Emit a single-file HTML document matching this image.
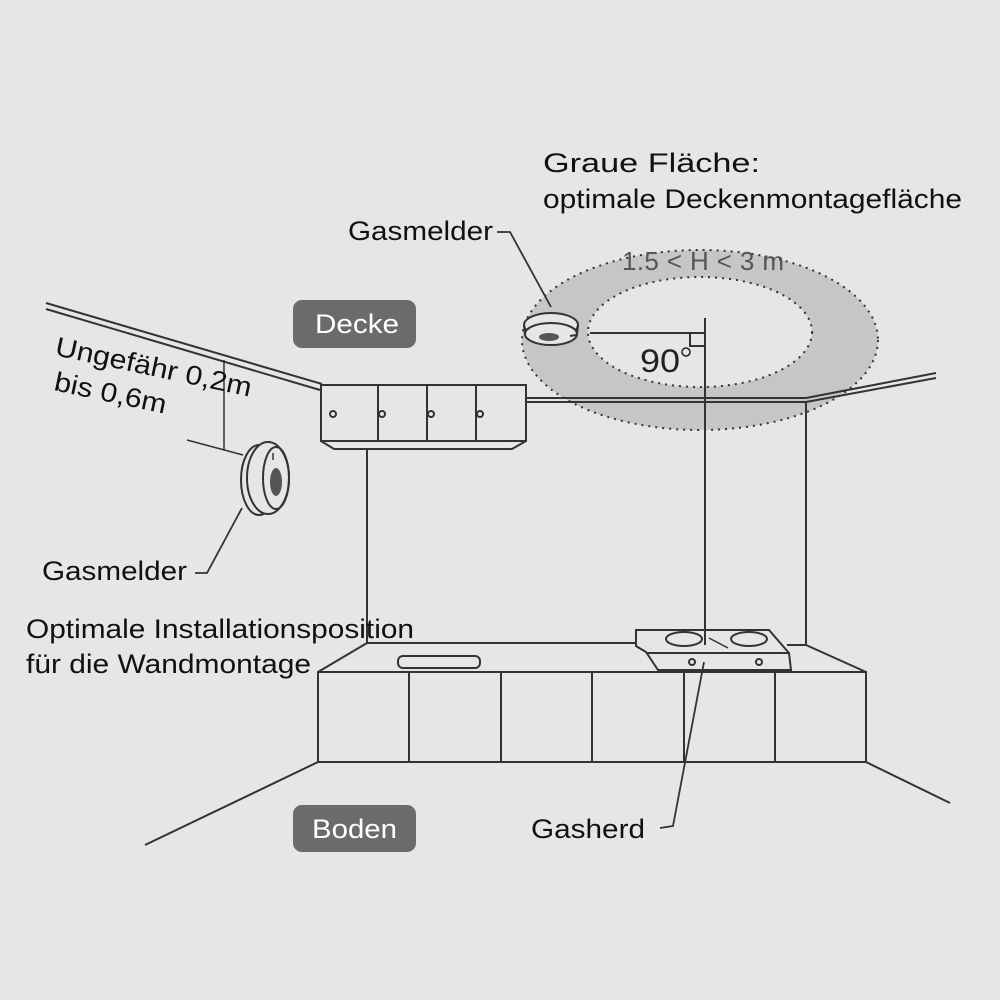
<!DOCTYPE html>
<html><head><meta charset="utf-8"><style>
html,body{margin:0;padding:0;background:#e6e6e6;}
svg{display:block;}
text{font-family:"Liberation Sans",sans-serif;}
</style></head><body>
<svg width="1000" height="1000" viewBox="0 0 1000 1000">
<rect width="1000" height="1000" fill="#e6e6e6"/>
<path d="M522,340 a178,90 0 1,0 356,0 a178,90 0 1,0 -356,0 Z M588,332 a112,55 0 1,1 224,0 a112,55 0 1,1 -224,0 Z" fill="#c6c6c6" fill-rule="evenodd"/>
<ellipse cx="700" cy="340" rx="178" ry="90" fill="none" stroke="#333" stroke-width="2" stroke-dasharray="2,5"/>
<ellipse cx="700" cy="332" rx="112" ry="55" fill="none" stroke="#333" stroke-width="2" stroke-dasharray="2,5"/>
<g stroke="#333" stroke-width="2" fill="none">
<line x1="46" y1="303" x2="322" y2="384"/>
<line x1="46" y1="309" x2="320" y2="390"/>
<line x1="526" y1="398" x2="806" y2="398"/>
<line x1="526" y1="402" x2="806" y2="402"/>
<line x1="806" y1="398" x2="936" y2="373"/>
<line x1="806" y1="402" x2="936" y2="378"/>
<rect x="321" y="385" width="205" height="56" fill="#e6e6e6"/>
<line x1="378" y1="385" x2="378" y2="441"/>
<line x1="427" y1="385" x2="427" y2="441"/>
<line x1="476" y1="385" x2="476" y2="441"/>
<path d="M321,441 L334,449 L512,449 L526,441"/>
<circle cx="333" cy="414" r="3"/><circle cx="382" cy="414" r="3"/><circle cx="431" cy="414" r="3"/><circle cx="480" cy="414" r="3"/>
<line x1="367" y1="449" x2="367" y2="643"/>
<line x1="806" y1="402" x2="806" y2="645"/>
<line x1="705" y1="318" x2="705" y2="640"/>
<line x1="367" y1="643" x2="636" y2="643"/>
<line x1="787" y1="645" x2="806" y2="645"/>
<line x1="318" y1="672" x2="367" y2="643"/>
<line x1="866" y1="672" x2="806" y2="645"/>
<rect x="318" y="672" width="548" height="90"/>
<line x1="409" y1="672" x2="409" y2="762"/>
<line x1="501" y1="672" x2="501" y2="762"/>
<line x1="592" y1="672" x2="592" y2="762"/>
<line x1="684" y1="672" x2="684" y2="762"/>
<line x1="775" y1="672" x2="775" y2="762"/>
<line x1="318" y1="762" x2="145" y2="845"/>
<line x1="866" y1="762" x2="950" y2="803"/>
<rect x="398" y="656" width="82" height="12" rx="5"/>
<path d="M636,630 L769,630 L789,653 L791,670 L658,670 L646,652 L636,646 Z" fill="#e6e6e6"/>
<line x1="646" y1="653" x2="789" y2="653"/>
<ellipse cx="684" cy="639" rx="18" ry="7"/>
<ellipse cx="749" cy="639" rx="18" ry="7"/>
<line x1="709" y1="638" x2="728" y2="648" stroke-width="1.5"/>
<line x1="705" y1="620" x2="705" y2="645"/>
<circle cx="692" cy="662" r="3"/><circle cx="759" cy="662" r="3"/>
<polyline points="704,662 673,826 660,828" stroke-width="1.8"/>
<ellipse cx="551" cy="325" rx="27" ry="12" fill="#e6e6e6"/>
<ellipse cx="551" cy="334" rx="26" ry="11" fill="#e6e6e6"/>
<path d="M524,325 L525,334 M578,325 L577,334"/>
<ellipse cx="549" cy="337" rx="10" ry="4" fill="#555" stroke="none"/>
<line x1="570" y1="336" x2="576" y2="335"/>
<line x1="590" y1="333" x2="705" y2="333"/>
<path d="M690,333 L690,346 L705,346"/>
<polyline points="497,232 510,232 551,307" stroke-width="1.8"/>
<ellipse cx="259" cy="480" rx="18" ry="35" fill="#e6e6e6"/>
<ellipse cx="268" cy="478" rx="21" ry="36" fill="#e6e6e6"/>
<ellipse cx="276" cy="478" rx="13" ry="31"/>
<ellipse cx="276" cy="482" rx="6" ry="14" fill="#555" stroke="none"/>
<line x1="273" y1="453" x2="273" y2="460" stroke-width="1.5"/>
<line x1="224" y1="360" x2="224" y2="450" stroke-width="1.5"/>
<line x1="187" y1="440" x2="243" y2="455" stroke-width="1.5"/>
<polyline points="242,508 207,573 195,573" stroke-width="1.8"/>
</g>
<rect x="293" y="300" width="123" height="48" rx="9" fill="#6b6b6b"/>
<text x="315" y="333" font-size="27" fill="#fff" textLength="84" lengthAdjust="spacingAndGlyphs">Decke</text>
<rect x="293" y="805" width="123" height="47" rx="9" fill="#6b6b6b"/>
<text x="312" y="838" font-size="27" fill="#fff" textLength="85" lengthAdjust="spacingAndGlyphs">Boden</text>
<g fill="#111" font-size="27">
<text x="543" y="172" textLength="217" lengthAdjust="spacingAndGlyphs">Graue Fläche:</text>
<text x="543" y="208" textLength="419" lengthAdjust="spacingAndGlyphs">optimale Deckenmontagefläche</text>
<text x="348" y="240" textLength="145" lengthAdjust="spacingAndGlyphs">Gasmelder</text>
<text x="42" y="580" textLength="145" lengthAdjust="spacingAndGlyphs">Gasmelder</text>
<text x="26" y="638" textLength="388" lengthAdjust="spacingAndGlyphs">Optimale Installationsposition</text>
<text x="26" y="673" textLength="285" lengthAdjust="spacingAndGlyphs">für die Wandmontage</text>
<text x="531" y="838" textLength="114" lengthAdjust="spacingAndGlyphs">Gasherd</text>
<text x="0" y="0" transform="translate(54,355) rotate(12)" textLength="200" lengthAdjust="spacingAndGlyphs">Ungefähr 0,2m</text>
<text x="0" y="0" transform="translate(53,390) rotate(12)" textLength="114" lengthAdjust="spacingAndGlyphs">bis 0,6m</text>
</g>
<text x="622" y="270" font-size="26" fill="#555" textLength="162" lengthAdjust="spacing">1.5 &lt; H &lt; 3 m</text>
<text x="640" y="372" font-size="32" fill="#222" textLength="40" lengthAdjust="spacingAndGlyphs">90</text>
<circle cx="686" cy="352" r="4" fill="none" stroke="#222" stroke-width="1.5"/>
</svg>
</body></html>
